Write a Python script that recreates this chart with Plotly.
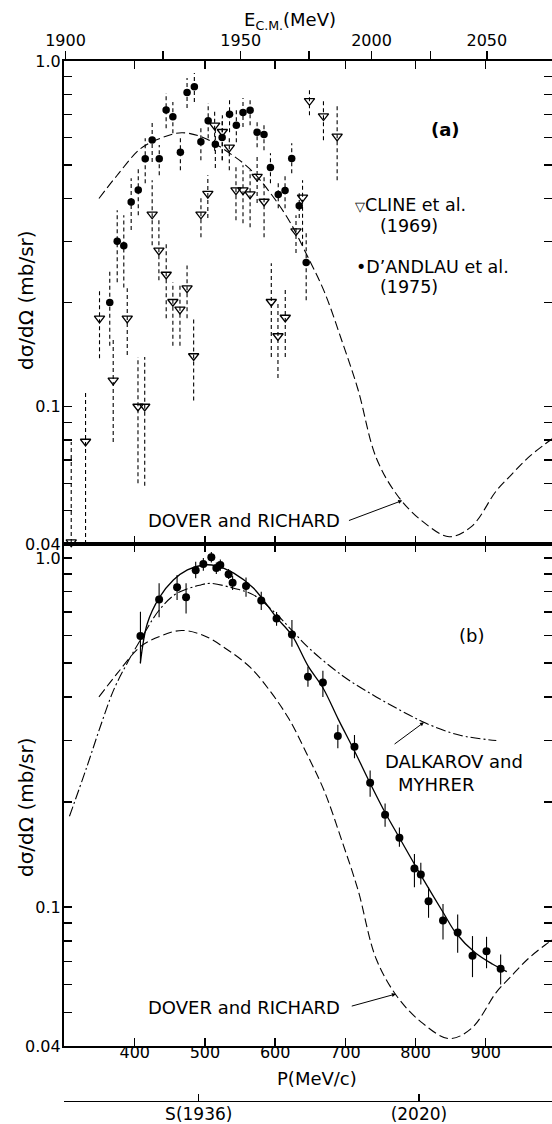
import numpy as np
import plotly.graph_objects as go

# ---------------- data ----------------
M_P = 938.272  # proton mass (MeV), used to convert E_cm -> lab momentum

# Panel (a): CLINE et al. (1969)  -- open triangles
cline_p = [309.5, 329.9, 349.8, 369.3, 389.3, 404.6, 414.2, 424.8, 434.4, 444.8, 454.3, 464.4,
           474.5, 483.9, 494.3, 504.1, 513.8, 524.8, 534.7, 544.2, 554.2, 564.3, 574.3, 584.2,
           594.5, 604.0, 614.4, 629.7, 639.0, 648.9, 668.8, 688.3]
cline_v = [0.0405, 0.0792, 0.180, 0.119, 0.180, 0.100, 0.100, 0.360, 0.283, 0.241, 0.201, 0.191,
           0.220, 0.140, 0.360, 0.413, 0.651, 0.624, 0.562, 0.423, 0.423, 0.412, 0.463, 0.392,
           0.201, 0.160, 0.181, 0.322, 0.403, 0.767, 0.693, 0.605]
cline_hi = [0.079, 0.110, 0.220, 0.159, 0.220, 0.139, 0.139, 0.452, 0.346, 0.297, 0.229, 0.224,
            0.256, 0.180, 0.409, 0.467, 0.726, 0.697, 0.610, 0.493, 0.499, 0.483, 0.534, 0.467,
            0.260, 0.200, 0.220, 0.358, 0.452, 0.835, 0.771, 0.746]
cline_lo = [0.035, 0.040, 0.138, 0.079, 0.141, 0.060, 0.059, 0.293, 0.232, 0.180, 0.150, 0.150,
            0.180, 0.104, 0.309, 0.351, 0.550, 0.516, 0.483, 0.346, 0.339, 0.330, 0.388, 0.309,
            0.139, 0.121, 0.139, 0.278, 0.292, 0.697, 0.590, 0.452]

# Panel (a): D'ANDLAU et al. (1975) -- filled circles
dand_p = [364.4, 375.0, 384.4, 394.9, 405.0, 414.9, 424.8, 434.9, 444.7, 454.3, 465.0, 474.5,
          484.9, 494.2, 504.6, 514.8, 524.5, 535.0, 544.7, 554.2, 564.3, 574.3, 584.1, 593.3,
          604.4, 614.1, 623.6, 634.3, 644.2]
dand_v = [0.200, 0.301, 0.292, 0.391, 0.423, 0.521, 0.591, 0.521, 0.721, 0.690, 0.544, 0.811,
          0.842, 0.584, 0.671, 0.574, 0.601, 0.701, 0.652, 0.709, 0.720, 0.622, 0.613, 0.492,
          0.411, 0.422, 0.522, 0.381, 0.261]
dand_hi = [0.248, 0.370, 0.358, 0.458, 0.490, 0.598, 0.666, 0.571, 0.808, 0.761, 0.602, 0.893,
           0.923, 0.652, 0.756, 0.644, 0.684, 0.781, 0.721, 0.781, 0.786, 0.675, 0.661, 0.541,
           0.446, 0.467, 0.578, 0.414, 0.319]
dand_lo = [0.150, 0.229, 0.221, 0.324, 0.358, 0.443, 0.510, 0.467, 0.639, 0.618, 0.483, 0.731,
           0.761, 0.516, 0.598, 0.490, 0.516, 0.622, 0.582, 0.644, 0.652, 0.563, 0.552, 0.443,
           0.375, 0.375, 0.473, 0.351, 0.203]

# Panel (b): data points with error bars
b_p = [408.1, 434.7, 460.3, 473.1, 486.8, 497.7, 509.1, 516.2, 521.9, 533.7, 539.4, 558.5,
       580.2, 602.0, 623.9, 646.7, 668.0, 689.3, 713.0, 735.3, 756.6, 777.0, 798.4, 807.5,
       818.5, 839.1, 860.0, 881.1, 901.1, 921.2]
b_v = [0.598, 0.761, 0.824, 0.772, 0.922, 0.961, 1.005, 0.936, 0.955, 0.898, 0.850, 0.831,
       0.756, 0.671, 0.604, 0.457, 0.440, 0.309, 0.288, 0.227, 0.184, 0.158, 0.129, 0.124,
       0.104, 0.0916, 0.0846, 0.0726, 0.0747, 0.0666]
b_hi = [0.702, 0.846, 0.894, 0.846, 0.976, 1.00, 1.04, 0.97, 0.99, 0.93, 0.89, 0.88,
        0.80, 0.70, 0.664, 0.488, 0.475, 0.333, 0.311, 0.246, 0.198, 0.169, 0.142, 0.134,
        0.114, 0.102, 0.0953, 0.0826, 0.0822, 0.0732]
b_lo = [0.499, 0.676, 0.758, 0.694, 0.875, 0.92, 0.97, 0.90, 0.92, 0.87, 0.81, 0.775,
        0.71, 0.64, 0.557, 0.428, 0.40, 0.285, 0.267, 0.207, 0.170, 0.149, 0.114, 0.116,
        0.0932, 0.0808, 0.074, 0.063, 0.0668, 0.060]

# Theory curves
dover_p = [349, 375, 408, 437, 467, 498, 531, 565, 595, 620, 645, 670, 695, 718, 744, 775,
           810, 848, 880, 915, 935, 960, 985, 1000]
dover_v = [0.40, 0.467, 0.557, 0.598, 0.62, 0.60, 0.548, 0.485, 0.41, 0.345, 0.275, 0.215,
           0.155, 0.112, 0.071, 0.055, 0.0465, 0.042, 0.045, 0.057, 0.063, 0.071, 0.078, 0.082]

dalk_p = [307, 332, 351, 370, 389, 408, 435, 460, 494, 508, 541, 569, 602, 624, 649, 696,
          744, 791, 815, 862, 915]
dalk_v = [0.182, 0.253, 0.329, 0.419, 0.499, 0.582, 0.71, 0.792, 0.837, 0.846, 0.819, 0.784,
          0.69, 0.62, 0.55, 0.46, 0.40, 0.355, 0.336, 0.311, 0.30]

fit_p = [408, 418, 435, 455, 475, 498, 516, 541, 569, 602, 624, 647, 668, 690, 713, 735,
         757, 777, 810, 840, 858, 885, 910, 930]
fit_v = [0.50, 0.65, 0.77, 0.865, 0.925, 0.955, 0.95, 0.905, 0.82, 0.675, 0.60, 0.49, 0.425,
         0.345, 0.28, 0.227, 0.186, 0.158, 0.121, 0.096, 0.084, 0.074, 0.0686, 0.0653]

# Axis ticks / labels
p_ticks = [400, 500, 600, 700, 800, 900]
ecm_major = [1900, 1950, 2000, 2050]
ecm_minor = [1925, 1975, 2025]
y_major = [0.04, 0.1, 1.0]
y_major_text = ["0.04", "0.1", "1.0"]
y_minor = [0.05, 0.06, 0.07, 0.08, 0.09, 0.2, 0.3, 0.4, 0.5, 0.6, 0.7, 0.8, 0.9]
res_e = [1936, 2020]
res_text = ["S(1936)", "(2020)"]


def p_from_ecm(e):
    e = np.asarray(e, float)
    elab = (e ** 2 - 2 * M_P ** 2) / (2 * M_P)
    return np.sqrt(elab ** 2 - M_P ** 2)


# ---------------- layout geometry ----------------
W, H = 552, 1124
LEFT = 63.5
P0 = 298.5
PXPER = 0.702
P1 = P0 + (W - LEFT) / PXPER
XR = [P0, P1]
XDOM = [LEFT / W, 1.0]


def py(ypx):
    return 1 - ypx / H


def px(xpx):
    return xpx / W


A_TOP, A_BOT = 61, 544
B_TOP, B_BOT = 544, 1046
LOG04 = np.log10(0.04)

FONT = "DejaVu Sans, Liberation Sans, Arial, sans-serif"
BLACK = "black"


def segs(p, lo, hi):
    xs, ys = [], []
    for a, l, h in zip(p, lo, hi):
        xs += [a, a, None]
        ys += [l, h, None]
    return xs, ys


fig = go.Figure()

# ---- panel (a) ----
xs, ys = segs(cline_p, cline_lo, cline_hi)
fig.add_trace(go.Scatter(x=xs, y=ys, mode="lines", xaxis="x", yaxis="y",
                         line=dict(color=BLACK, width=1.1, dash="4px,3px"), hoverinfo="skip"))
xs, ys = segs(dand_p, dand_lo, dand_hi)
fig.add_trace(go.Scatter(x=xs, y=ys, mode="lines", xaxis="x", yaxis="y",
                         line=dict(color=BLACK, width=1.1, dash="4px,3px"), hoverinfo="skip"))
fig.add_trace(go.Scatter(x=dover_p, y=dover_v, mode="lines", xaxis="x", yaxis="y",
                         line=dict(color=BLACK, width=1.1, dash="9px,4px", shape="spline")))
fig.add_trace(go.Scatter(x=cline_p, y=cline_v, mode="markers", xaxis="x", yaxis="y",
                         marker=dict(symbol="triangle-down-open", size=9, color=BLACK,
                                     line=dict(width=1.3, color=BLACK)), cliponaxis=False))
fig.add_trace(go.Scatter(x=dand_p, y=dand_v, mode="markers", xaxis="x", yaxis="y",
                         marker=dict(symbol="circle", size=7.5, color=BLACK)))
# invisible trace for the top E_cm axis
fig.add_trace(go.Scatter(x=[P0], y=[0.5], mode="markers", xaxis="x3", yaxis="y",
                         marker=dict(opacity=0), hoverinfo="skip"))

# ---- panel (b) ----
fig.add_trace(go.Scatter(x=dover_p, y=dover_v, mode="lines", xaxis="x2", yaxis="y2",
                         line=dict(color=BLACK, width=1.1, dash="9px,4px", shape="spline")))
fig.add_trace(go.Scatter(x=dalk_p, y=dalk_v, mode="lines", xaxis="x2", yaxis="y2",
                         line=dict(color=BLACK, width=1.1, dash="10px,3px,2px,3px", shape="spline")))
fig.add_trace(go.Scatter(x=fit_p, y=fit_v, mode="lines", xaxis="x2", yaxis="y2",
                         line=dict(color=BLACK, width=1.3, shape="spline")))
b_plus = [h - v for h, v in zip(b_hi, b_v)]
b_minus = [v - l for v, l in zip(b_v, b_lo)]
fig.add_trace(go.Scatter(x=b_p, y=b_v, mode="markers", xaxis="x2", yaxis="y2",
                         marker=dict(symbol="circle", size=8, color=BLACK),
                         error_y=dict(type="data", symmetric=False, array=b_plus,
                                      arrayminus=b_minus, color=BLACK, thickness=1.1, width=0)))
fig.add_trace(go.Scatter(x=[P0], y=[0.5], mode="markers", xaxis="x4", yaxis="y2",
                         marker=dict(opacity=0), hoverinfo="skip"))

axis_common = dict(showgrid=False, zeroline=False, showline=True, linecolor=BLACK,
                   linewidth=1.6, tickcolor=BLACK, tickwidth=1.3, automargin=False,
                   tickfont=dict(family=FONT, size=16, color=BLACK))

y_vals = y_major + y_minor
y_text = y_major_text + ["" for _ in y_minor]
ylog = dict(type="log", tickmode="array", tickvals=y_vals, ticktext=y_text,
            ticks="inside", ticklen=8, mirror="ticks", ticklabelstandoff=-2, **axis_common)

ecm_all = ecm_major + ecm_minor
ecm_text = [str(e) for e in ecm_major] + ["" for _ in ecm_minor]

fig.update_layout(
    width=W, height=H, margin=dict(l=0, r=0, t=0, b=0, pad=0, autoexpand=False),
    paper_bgcolor="white", plot_bgcolor="white", showlegend=False, hovermode=False,
    font=dict(family=FONT, color=BLACK),
    xaxis=dict(domain=XDOM, range=XR, anchor="y", tickmode="array", tickvals=p_ticks,
               showticklabels=False, ticks="inside", ticklen=8, mirror="ticks", **axis_common),
    yaxis=dict(domain=[py(A_BOT), py(A_TOP)], range=[LOG04, 0], anchor="x", **ylog),
    xaxis3=dict(domain=XDOM, range=XR, overlaying="x", anchor="y", side="top",
                tickmode="array", tickvals=list(p_from_ecm(ecm_all)), ticktext=ecm_text,
                ticks="outside", ticklen=8, ticklabelstandoff=-1, **axis_common),
    xaxis2=dict(domain=XDOM, range=XR, anchor="y2", tickmode="array", tickvals=p_ticks,
                ticks="inside", ticklen=8, mirror="ticks", ticklabelstandoff=-9, **axis_common),
    yaxis2=dict(domain=[py(B_BOT), py(B_TOP)], range=[LOG04, 0.0401], anchor="x2", **ylog),
    xaxis4=dict(domain=XDOM, range=XR, overlaying="x2", anchor="free", position=py(1100.7),
                side="bottom", tickmode="array", tickvals=list(p_from_ecm(res_e)),
                ticktext=res_text, ticks="inside", ticklen=7, ticklabelstandoff=-3,
                **{**axis_common, "tickfont": dict(family=FONT, size=17, color=BLACK)}),
)


def lab(text, x, y, size=18, xanchor="left", angle=0):
    return dict(text=text, xref="paper", yref="paper", x=px(x), y=py(y), showarrow=False,
                xanchor=xanchor, yanchor="middle", textangle=angle,
                font=dict(family=FONT, size=size, color=BLACK))


def dover_at(p):
    return np.interp(p, dover_p, np.log10(dover_v))


def dalk_at(p):
    return np.interp(p, dalk_p, np.log10(dalk_v))


annotations = [
    lab("E<sub>C.M.</sub>(MeV)", 289.6, 21, size=18, xanchor="center"),
    lab("P(MeV/c)", 317, 1078, size=18, xanchor="center"),
    lab("dσ/dΩ (mb/sr)", 26, 300, size=20, xanchor="center", angle=-90),
    lab("dσ/dΩ (mb/sr)", 26, 807, size=20, xanchor="center", angle=-90),
    lab("<b>(a)</b>", 445, 129, size=18, xanchor="center"),
    lab("(b)", 471, 635, size=18, xanchor="center"),
    lab("<span style='font-size:13px'>▽</span>CLINE et al.", 353, 205, size=17.5),
    lab("(1969)", 378, 226, size=17.5),
    lab("•D’ANDLAU et al.", 354, 267, size=17.5),
    lab("(1975)", 378, 287, size=17.5),
    lab("DOVER and RICHARD", 146, 520),
    lab("DOVER and RICHARD", 146, 1007),
    lab("DALKAROV and", 383, 761),
    lab("MYHRER", 396, 784),
]

arrow = dict(text="", showarrow=True, arrowhead=2, arrowsize=0.8, arrowwidth=1,
             arrowcolor=BLACK, standoff=0, startstandoff=0)
annotations.append(dict(x=781, y=dover_at(781), xref="x", yref="y",
                        ax=703, ay=np.log10(0.0466), axref="x", ayref="y", **arrow))
annotations.append(dict(x=772, y=dover_at(772), xref="x2", yref="y2",
                        ax=707, ay=np.log10(0.0519), axref="x2", ayref="y2", **arrow))
annotations.append(dict(x=812, y=dalk_at(812), xref="x2", yref="y2",
                        ax=768, ay=np.log10(0.291), axref="x2", ayref="y2", **arrow))

fig.update_layout(annotations=annotations)

fig.write_html("out.html",
               config={"displayModeBar": False, "staticPlot": True},
               post_script="document.body.style.margin='0px';"
                           "document.documentElement.style.margin='0px';")
